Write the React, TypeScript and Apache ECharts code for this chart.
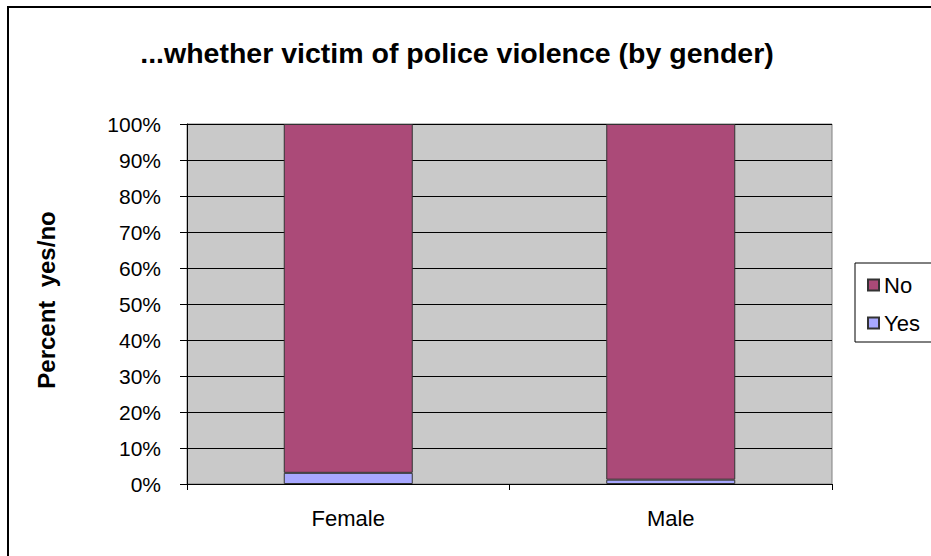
import React, { useEffect, useRef } from "react";
import * as echarts from "echarts";

const categories = ["Female", "Male"];
const yesValues = [3.1, 1.2];
const noValues = [96.9, 98.8];
const seriesNames = ["Yes", "No"];
const titleText = "...whether victim of police violence (by gender)";
const yAxisTitle = "Percent  yes/no";

export default function App() {
  const ref = useRef<HTMLDivElement>(null);
  useEffect(() => {
    if (!ref.current) return;
    const chart = echarts.init(ref.current, null, { renderer: "svg" });
    const font = "Liberation Sans, Arial, sans-serif";
    chart.setOption({
      animation: false,
      backgroundColor: "#ffffff",
      title: {
        text: titleText,
        left: 452,
        textAlign: "center",
        top: 33,
        textStyle: { fontFamily: font, fontWeight: "bold", fontSize: 28.5, color: "#000" },
      },
      graphic: [
        { type: "line", shape: { x1: 7, y1: 7, x2: 931, y2: 7 }, style: { stroke: "#000", lineWidth: 2 } },
        { type: "line", shape: { x1: 8, y1: 7, x2: 8, y2: 556 }, style: { stroke: "#000", lineWidth: 2 } },
        { type: "rect", shape: { x: 855, y: 263, width: 90, height: 79 }, style: { fill: "#fff", stroke: "#000", lineWidth: 1 }, z: 0 },
        {
          type: "text",
          x: 46,
          y: 300,
          rotation: Math.PI / 2,
          style: { text: yAxisTitle, fontFamily: font, fontWeight: "bold", fontSize: 24, fill: "#000", align: "center", verticalAlign: "middle" },
        },
      ],
      legend: {
        orient: "vertical",
        left: 862,
        top: 269,
        itemWidth: 11,
        itemHeight: 11,
        itemGap: 16,
        data: ["No", "Yes"],
        icon: "rect",
        textStyle: { fontFamily: font, fontSize: 22, color: "#000" },
        z: 10,
      },
      grid: {
        left: 187,
        right: 99,
        top: 124,
        bottom: 72,
        show: true,
        backgroundColor: "#c9c9c9",
        borderColor: "#808080",
        borderWidth: 1,
      },
      xAxis: {
        type: "category",
        data: categories,
        axisLine: { show: true, lineStyle: { color: "#000", width: 1 } },
        axisTick: { show: true, alignWithLabel: false, length: 6, lineStyle: { color: "#000" } },
        axisLabel: { fontFamily: font, fontSize: 22, color: "#000", margin: 23 },
      },
      yAxis: {
        type: "value",
        min: 0,
        max: 100,
        interval: 10,
        axisLine: { show: true, lineStyle: { color: "#000" } },
        axisTick: { show: true, length: 7, lineStyle: { color: "#000" } },
        splitLine: { show: true, lineStyle: { color: "#000", width: 1 } },
        axisLabel: { fontFamily: font, fontSize: 21, color: "#000", formatter: "{value}%", margin: 26 },
      },
      series: [
        {
          name: seriesNames[0],
          type: "bar",
          stack: "total",
          data: yesValues,
          barWidth: "40%",
          itemStyle: { color: "#a8a8ff", borderColor: "#333", borderWidth: 1 },
        },
        {
          name: seriesNames[1],
          type: "bar",
          stack: "total",
          data: noValues,
          barWidth: "40%",
          itemStyle: { color: "#ab4a78", borderColor: "#333", borderWidth: 1 },
        },
      ],
    });
    return () => chart.dispose();
  }, []);
  return <div ref={ref} style={{ position: "fixed", left: 0, top: 0, width: 931, height: 556 }} />;
}
